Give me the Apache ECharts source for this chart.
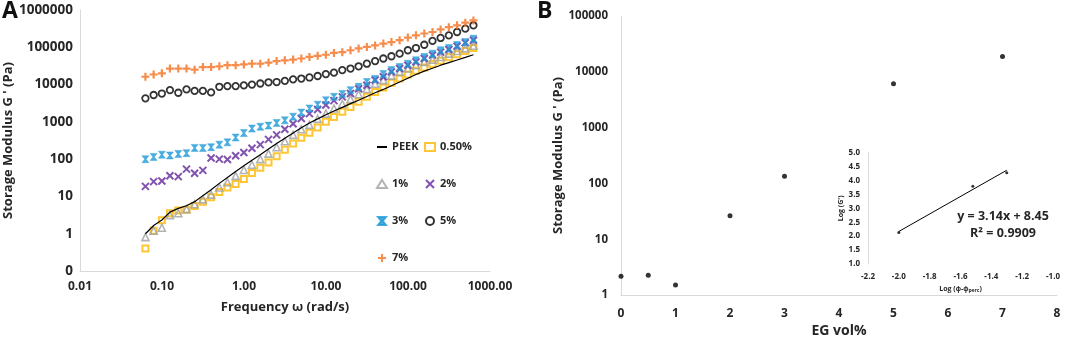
<!DOCTYPE html>
<html><head><meta charset="utf-8">
<script src="https://cdn.jsdelivr.net/npm/echarts@6/dist/echarts.min.js"></script>
<style>html,body{margin:0;padding:0;background:#fff}#c{width:1065px;height:343px}</style>
</head><body><div id="c"></div>
<script>
// ---------- Panel A data (frequency sweep) ----------
const freq = [0.0628,0.0791,0.0996,0.125,0.158,0.199,0.250,0.315,0.397,0.500,
  0.628,0.791,0.996,1.25,1.58,1.99,2.50,3.15,3.97,5.00,
  6.28,7.91,9.96,12.5,15.8,19.9,25.0,31.5,39.7,50.0,
  62.8,79.1,99.6,125,158,199,250,315,397,500,628];
const peek = [1.0,1.66,2.34,3.80,4.79,5.62,7.24,10.5,15.1,22.4,
  32.4,46.8,66.1,93.3,132,186,263,363,501,692,
  933,1200,1550,1950,2450,3090,3800,4790,6030,7410,
  9330,11700,14800,18600,22900,27500,33100,38900,45700,53700,63100];
const eg050 = [0.40,1.20,2.29,3.55,4.17,4.37,5.50,7.24,9.55,13.2,
  17.4,21.4,29.5,42.7,58.9,81.3,120,178,263,372,
  513,708,1000,1350,1860,2510,3470,4680,6310,8320,
  11200,14500,18600,23400,28800,35500,43700,53700,64600,79400,95500];
const eg1 = [0.81,1.20,1.45,3.16,3.55,4.57,6.17,8.32,11.2,17.4,
  24.0,35.5,51.3,70.8,100,141,209,302,447,631,
  832,1200,1660,2290,3020,4070,5500,7590,10500,13200,
  17400,21900,26900,33100,40700,46800,55000,67600,79400,93300,110000];
const eg2 = [18.6,25,26,36,34,54,42,50,107,100,
  98,123,151,195,245,339,447,631,891,1230,
  1660,2140,2820,3720,4680,5750,7760,9550,13200,16200,
  21900,26900,33100,40700,50100,61700,74100,87100,107000,132000,155000];
const eg3 = [100,115,132,126,138,145,200,200,209,245,
  282,380,501,661,741,794,933,1100,1380,1780,
  2290,2880,3800,4680,5620,7080,8710,11700,14100,19100,
  24500,29500,36300,44700,55000,67600,83200,95500,115000,138000,170000];
const eg5 = [4270,5250,5750,7080,6030,7410,6760,6760,6170,8710,
  9120,9120,9550,10000,10700,11500,11700,12600,13800,14500,
  15500,17000,19100,20900,24500,26900,30900,36300,42700,50100,
  57500,67600,83200,95500,117000,148000,178000,209000,257000,316000,389000];
const eg7 = [16200,18600,20000,26900,26900,26900,25100,29500,29500,30900,
  33100,33100,34700,36300,36300,38900,42700,44700,46800,50100,
  55000,58900,63100,70800,74100,83200,93300,102000,112000,126000,
  138000,155000,182000,209000,234000,257000,302000,347000,389000,457000,525000];
const seriesNamesA = ['PEEK','0.50%','1%','2%','3%','5%','7%'];

// ---------- Panel B data ----------
const egVol = [0, 0.5, 1, 2, 3, 5, 7];
const egG = [2.18, 2.27, 1.52, 26.5, 135, 6100, 18900];

// ---------- Inset data ----------
const insetX = [-2.0, -1.52, -1.30];
const insetY = [2.13, 3.79, 4.28];
const trendX = [-2.0, -1.30];
const trendY = [2.17, 4.37];
const eqText = 'y = 3.14x + 8.45';
const r2Text = 'R² = 0.9909';

const FF = "'Open Sans', sans-serif";
const TXT = '#262626';
const pair = (xs, ys) => xs.map((x, i) => [x, ys[i]]);
const axisLine = {show: true, lineStyle: {color: '#d9d9d9', width: 1}};

const chart = echarts.init(document.getElementById('c'), null, {renderer: 'canvas'});
const clear = 'rgba(0,0,0,0)';
const legendText = {fontSize: 11, fontWeight: 'bold', color: TXT, fontFamily: FF, lineHeight: 14};
const option = {
  animation: false,
  backgroundColor: '#fff',
  textStyle: {fontFamily: FF},
  grid: [
    {left: 80, top: 10, width: 410, height: 261},
    {left: 621, top: 16, width: 436, height: 281},
    {left: 868, top: 152.7, width: 185, height: 111.3}
  ],
  xAxis: [
    {gridIndex: 0, type: 'log', logBase: 10, min: 0.01, max: 1000,
     axisLine, axisTick: {show: false}, splitLine: {show: false},
     axisLabel: {margin: 10, fontSize: 12, fontWeight: 'bold', color: TXT, fontFamily: FF,
       formatter: v => v.toFixed(2)},
     name: 'Frequency ω (rad/s)', nameLocation: 'middle', nameGap: 30,
     nameTextStyle: {fontSize: 13, fontWeight: 'bold', color: TXT, fontFamily: FF}},
    {gridIndex: 1, type: 'value', min: 0, max: 8, interval: 1,
     axisLine, axisTick: {show: false}, splitLine: {show: false},
     axisLabel: {margin: 12, fontSize: 12, fontWeight: 'bold', color: TXT, fontFamily: FF},
     name: 'EG vol%', nameLocation: 'middle', nameGap: 23,
     nameTextStyle: {fontSize: 14, fontWeight: 'bold', color: TXT, fontFamily: FF}},
    {gridIndex: 2, type: 'value', min: -2.2, max: -1.0, interval: 0.2,
     axisLine: {show: false}, axisTick: {show: false}, splitLine: {show: false},
     axisLabel: {margin: 9, fontSize: 8, fontWeight: 'bold', color: TXT, fontFamily: FF,
       formatter: v => v.toFixed(1)},
     name: 'Log (ϕ-ϕ{s|perc})', nameLocation: 'middle', nameGap: 20,
     nameTextStyle: {fontSize: 7, fontWeight: 'bold', color: TXT, fontFamily: FF,
       rich: {s: {fontSize: 5, fontWeight: 'bold', color: TXT, verticalAlign: 'bottom', padding: [4,0,0,0]}}}}
  ],
  yAxis: [
    {gridIndex: 0, type: 'log', logBase: 10, min: 0.1, max: 1000000, interval: 1,
     axisLine, axisTick: {show: false}, splitLine: {show: false},
     axisLabel: {margin: 7, fontSize: 13.5, fontWeight: 'bold', color: TXT, fontFamily: FF,
       formatter: v => (v < 1 ? '0' : String(Math.round(v)))},
     name: "Storage Modulus G ' (Pa)", nameLocation: 'middle', nameGap: 63,
     nameTextStyle: {fontSize: 13, fontWeight: 'bold', color: TXT, fontFamily: FF}},
    {gridIndex: 1, type: 'log', logBase: 10, min: 1, max: 100000, interval: 1,
     axisLine, axisTick: {show: false}, splitLine: {show: false},
     axisLabel: {margin: 13, fontSize: 11.5, fontWeight: 'bold', color: TXT, fontFamily: FF,
       formatter: v => String(Math.round(v))},
     name: "Storage Modulus G ' (Pa)", nameLocation: 'middle', nameGap: 54,
     nameTextStyle: {fontSize: 13, fontWeight: 'bold', color: TXT, fontFamily: FF}},
    {gridIndex: 2, type: 'value', min: 1, max: 5, interval: 0.5,
     axisLine, axisTick: {show: false}, splitLine: {show: false},
     axisLabel: {margin: 8, fontSize: 8, fontWeight: 'bold', color: TXT, fontFamily: FF,
       formatter: v => v.toFixed(1)},
     name: "Log (G')", nameLocation: 'middle', nameGap: 22,
     nameTextStyle: {fontSize: 7, fontWeight: 'bold', color: TXT, fontFamily: FF}}
  ],
  legend: [
    {left: 371, top: 135, orient: 'vertical', itemWidth: 10, itemHeight: 8, itemGap: 23,
     selectedMode: false,
     data: [{name: 'PEEK', itemStyle: {color: clear, borderWidth: 0, borderColor: clear}}, '1%', '3%', '7%'],
     textStyle: legendText},
    {left: 419, top: 135, orient: 'vertical', itemWidth: 10, itemHeight: 8, itemGap: 23,
     selectedMode: false, data: ['0.50%','2%','5%'],
     textStyle: legendText}
  ],
  series: [
    {name: 'PEEK', type: 'line', xAxisIndex: 0, yAxisIndex: 0, data: pair(freq, peek),
     symbol: 'none', showSymbol: false, lineStyle: {color: '#000', width: 1.2}, itemStyle: {color: '#000'}},
    {name: '0.50%', type: 'scatter', xAxisIndex: 0, yAxisIndex: 0, data: pair(freq, eg050),
     symbol: 'rect', symbolSize: 6,
     itemStyle: {color: clear, borderColor: '#ffb800', borderWidth: 2}},
    {name: '1%', type: 'scatter', xAxisIndex: 0, yAxisIndex: 0, data: pair(freq, eg1),
     symbol: 'triangle', symbolSize: 7,
     itemStyle: {color: clear, borderColor: '#a0a0a0', borderWidth: 1.6}},
    {name: '2%', type: 'scatter', xAxisIndex: 0, yAxisIndex: 0, data: pair(freq, eg2),
     symbol: 'path://M0,0L10,10M10,0L0,10', symbolSize: 7,
     itemStyle: {color: clear, borderColor: '#62289a', borderWidth: 2}},
    {name: '3%', type: 'scatter', xAxisIndex: 0, yAxisIndex: 0, data: pair(freq, eg3),
     symbol: 'path://M0,0L10,0L6,5L10,10L0,10L4,5Z', symbolSize: 7,
     itemStyle: {color: '#1f9ad6', borderColor: '#1f9ad6', borderWidth: 0.5}},
    {name: '5%', type: 'scatter', xAxisIndex: 0, yAxisIndex: 0, data: pair(freq, eg5),
     symbol: 'circle', symbolSize: 6.5,
     itemStyle: {color: clear, borderColor: '#000', borderWidth: 1.8}},
    {name: '7%', type: 'scatter', xAxisIndex: 0, yAxisIndex: 0, data: pair(freq, eg7),
     symbol: 'path://M5,0L5,10M0,5L10,5', symbolSize: 8,
     itemStyle: {color: clear, borderColor: '#f4701f', borderWidth: 2.2}},
    {name: 'G', type: 'scatter', xAxisIndex: 1, yAxisIndex: 1, data: pair(egVol, egG),
     symbol: 'circle', symbolSize: 5, itemStyle: {color: '#000'}},
    {name: 'trend', type: 'line', xAxisIndex: 2, yAxisIndex: 2, data: pair(trendX, trendY),
     symbol: 'none', lineStyle: {color: '#000', width: 1}},
    {name: 'log', type: 'scatter', xAxisIndex: 2, yAxisIndex: 2, data: pair(insetX, insetY),
     symbol: 'circle', symbolSize: 3, itemStyle: {color: '#000'}}
  ],
  graphic: [
    {type: 'text', left: 2, top: 0, style: {text: 'A', fontSize: 23, fontWeight: 'bold', fill: '#111', fontFamily: FF}},
    {type: 'text', left: 537, top: 0, style: {text: 'B', fontSize: 23, fontWeight: 'bold', fill: '#111', fontFamily: FF}},
    {type: 'text', x: 1003, y: 216, style: {text: eqText, fontSize: 12.5, fontWeight: 'bold', fill: TXT, fontFamily: FF, align: 'center', verticalAlign: 'middle'}},
    {type: 'text', x: 1003, y: 233, style: {text: r2Text, fontSize: 12.5, fontWeight: 'bold', fill: TXT, fontFamily: FF, align: 'center', verticalAlign: 'middle'}}
  ]
};
chart.setOption(option);
</script>
</body></html>
